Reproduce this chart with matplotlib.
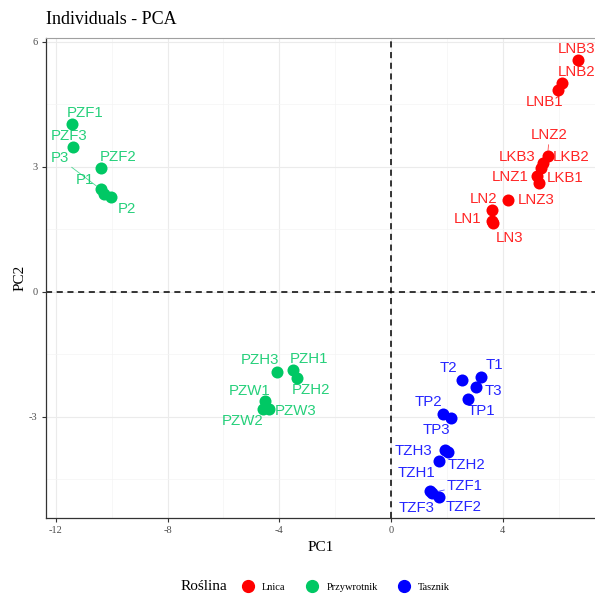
import matplotlib.pyplot as plt
from matplotlib.lines import Line2D

plt.rcParams["axes.unicode_minus"] = False

# individuals: name, PC1, PC2, group
NAMES = ["LNB3", "LNB2", "LNB1", "LNZ2", "LKB2", "LKB3", "LNZ1", "LKB1", "LNZ3", "LN2", "LN1", "LN3",
         "PZF1", "PZF3", "PZF2", "P3", "P1", "P2", "PZH3", "PZH1", "PZH2", "PZW1", "PZW3", "PZW2",
         "T1", "T2", "T3", "TP1", "TP2", "TP3", "TZH3", "TZH2", "TZH1", "TZF1", "TZF3", "TZF2"]
PC1 = [6.68, 6.11, 5.99, 5.60, 5.45, 5.37, 5.22, 5.31, 4.20, 3.60, 3.62, 3.65,
       -11.43, -11.40, -10.39, -10.39, -10.28, -10.03, -4.07, -3.52, -3.38, -4.51, -4.37, -4.57,
       3.21, 2.55, 3.03, 2.77, 1.87, 2.14, 1.93, 2.05, 1.72, 1.47, 1.40, 1.73]
PC2 = [5.56, 5.02, 4.84, 3.26, 3.10, 2.98, 2.78, 2.62, 2.20, 1.96, 1.70, 1.66,
       4.02, 3.47, 2.97, 2.46, 2.34, 2.27, -1.93, -1.88, -2.08, -2.62, -2.82, -2.82,
       -2.05, -2.12, -2.28, -2.58, -2.93, -3.04, -3.80, -3.84, -4.06, -4.82, -4.77, -4.92]
GROUPS = ["Lnica"] * 12 + ["Przywrotnik"] * 12 + ["Tasznik"] * 12

COLORS = {"Lnica": "#FF0000", "Przywrotnik": "#00C864", "Tasznik": "#0000FF"}

# label placement (pixels from point, y up), like ggrepel output
OFFSETS = {
    "LNB3": (-1, 11), "LNB2": (15, 11), "LNB1": (-14, -12), "LNZ2": (2, 21), "LKB2": (28, 6),
    "LKB3": (-24, 11), "LNZ1": (-27, -1), "LKB1": (26, 5), "LNZ3": (28, 0), "LN2": (-8, 11),
    "LN1": (-25, 2), "LN3": (16, -15),
    "PZF1": (13, 11), "PZF3": (-3, 11), "PZF2": (17, 11), "P3": (-41, 31), "P1": (-19, 14),
    "P2": (16, -12), "PZH3": (-17, 12), "PZH1": (16, 11), "PZH2": (14, -12), "PZW1": (-15, 10),
    "PZW3": (27, -2), "PZW2": (-21, -12),
    "T1": (14, 12), "T2": (-14, 12), "T3": (18, -4), "TP1": (13, -12), "TP2": (-15, 12),
    "TP3": (-14, -12), "TZH3": (-32, -1), "TZH2": (18, -13), "TZH1": (-23, -12),
    "TZF1": (33, 7), "TZF3": (-14, -17), "TZF2": (24, -10),
}
SEGMENTS = ["P3", "LNZ2", "TZF1"]

fig = plt.figure(figsize=(5.95, 5.94), dpi=100)
ax = fig.add_axes([46 / 595, 76 / 594, 1 - 46 / 595, (518 - 38) / 594])

for g, c in COLORS.items():
    xs = [x for x, gg in zip(PC1, GROUPS) if gg == g]
    ys = [y for y, gg in zip(PC2, GROUPS) if gg == g]
    ax.scatter(xs, ys, s=75, color=c, zorder=3, linewidths=0)

for n, x, y, g in zip(NAMES, PC1, PC2, GROUPS):
    dx, dy = OFFSETS[n]
    arrow = None
    if n in SEGMENTS:
        arrow = dict(arrowstyle="-", color=COLORS[g], lw=0.6, alpha=0.7, shrinkA=0, shrinkB=4)
    ax.annotate(n, (x, y), xytext=(dx, dy), textcoords="offset pixels",
                ha="center", va="center", color=COLORS[g], fontsize=10.8,
                family="Liberation Sans", alpha=0.85, zorder=4, arrowprops=arrow,
                annotation_clip=False)

ax.axvline(0, color="black", ls=(0, (4, 3)), lw=1.1, zorder=2)
ax.axhline(0, color="black", ls=(0, (4, 3)), lw=1.1, zorder=2)

ax.set_xlim(-12.35, 7.30)
ax.set_ylim(-5.43, 6.09)
ax.set_xticks([-12, -8, -4, 0, 4])
ax.set_yticks([-3, 0, 3, 6])
ax.set_xticks([-10, -6, -2, 2, 6], minor=True)
ax.set_yticks([-4.5, -1.5, 1.5, 4.5], minor=True)
ax.grid(which="major", color="#EBEBEB", lw=0.8, zorder=0)
ax.grid(which="minor", color="#F4F4F4", lw=0.5, zorder=0)
ax.set_axisbelow(True)
ax.tick_params(which="major", length=3, width=0.8, color="#333333", labelsize=7.5,
               labelcolor="#4D4D4D", pad=3)
ax.tick_params(which="minor", length=0)
for lab in ax.get_xticklabels() + ax.get_yticklabels():
    lab.set_family("Liberation Serif")
for s in ["left", "bottom"]:
    ax.spines[s].set_color("#333333")
    ax.spines[s].set_linewidth(0.9)
ax.spines["top"].set_color("#A0A0A0")
ax.spines["right"].set_visible(False)

ax.set_xlabel("PC1", family="Liberation Serif", fontsize=11, labelpad=4)
ax.set_ylabel("PC2", family="Liberation Serif", fontsize=11, labelpad=2)
fig.text(46 / 595, 1 - 19 / 594, "Individuals - PCA", family="Liberation Serif",
         fontsize=13, va="center", ha="left")

fig.text(181 / 595, 1 - 587 / 594, "Roślina", family="Liberation Serif", fontsize=11,
         va="center", ha="left")
handles = [Line2D([], [], marker="o", ls="", color=c, markersize=8.5) for c in COLORS.values()]
fig.legend(handles, list(COLORS.keys()), loc="center left", bbox_to_anchor=(232 / 595, 1 - 587 / 594),
           ncol=3, frameon=False, prop={"family": "Liberation Serif", "size": 7.5},
           handletextpad=0.8, columnspacing=1.9, handlelength=1.2)

fig.savefig("out.png", dpi=100)
